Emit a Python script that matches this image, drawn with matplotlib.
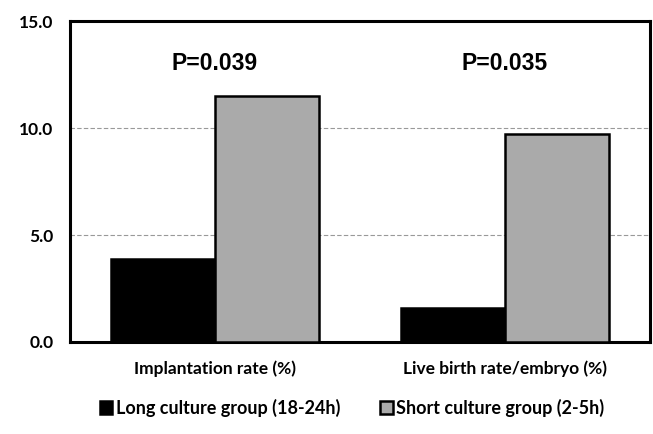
import matplotlib.pyplot as plt
import numpy as np

categories = ['Implantation rate (%)', 'Live birth rate/embryo (%)']
long_culture = [3.9, 1.6]
short_culture = [11.5, 9.7]
p_values = ['P=0.039', 'P=0.035']
series_names = ['Long culture group (18-24h)', 'Short culture group (2-5h)']

fig = plt.figure(figsize=(6.53, 4.34), dpi=100)
ax = fig.add_axes([70/653, 1-342/434, 580/653, 321/434])

x = np.arange(len(categories))
w = 0.36
ax.bar(x - w/2, long_culture, w, color='black', edgecolor='black', lw=1.8, label=series_names[0], zorder=3)
ax.bar(x + w/2, short_culture, w, color='#aaaaaa', edgecolor='black', lw=1.8, label=series_names[1], zorder=3)

for i, p in enumerate(p_values):
    ax.text(x[i], 13.0, p, ha='center', va='center', fontsize=16.5, fontweight='bold',
            family='Liberation Sans')

ax.set_xlim(-0.5, 1.5)
ax.set_ylim(0, 15)
ax.set_yticks([0, 5, 10, 15])
ax.set_yticklabels(['0.0', '5.0', '10.0', '15.0'], fontsize=12.5, fontweight='bold', family='Lato')
ax.set_xticks(x)
ax.set_xticklabels(categories, fontsize=12.5, fontweight='bold', family='Lato')
ax.tick_params(length=0, pad=12)
ax.tick_params(axis='x', pad=13)
ax.yaxis.grid(True, ls=(0, (4, 2)), color='#999999', lw=0.8, zorder=0)
for s in ax.spines.values():
    s.set_linewidth(2.2)

leg = fig.legend(loc='center', bbox_to_anchor=(352/653, 1-408/434), ncol=2, frameon=False,
                 prop={'family': 'Lato', 'weight': 'bold', 'size': 13},
                 handlelength=0.7, handleheight=0.7, handletextpad=0.2, columnspacing=2.2)

plt.savefig('out.png', dpi=100)
